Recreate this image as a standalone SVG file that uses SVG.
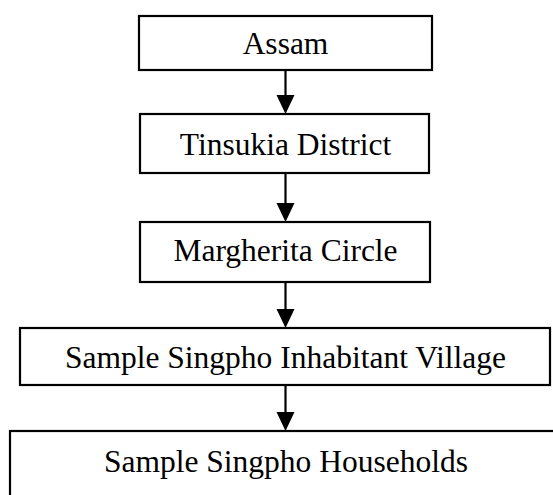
<svg xmlns="http://www.w3.org/2000/svg" width="553" height="495" viewBox="0 0 553 495">
<style>
.box{fill:#fff;stroke:#000;stroke-width:2.2}
.lbl{font-family:"Liberation Serif","Times New Roman",serif;font-size:31.5px;fill:#000;text-anchor:middle}
.edge{stroke:#000;stroke-width:2.2;fill:none}
.head{fill:#000}
</style>
<rect width="553" height="495" fill="#fff"/>
<g id="connectors">
<line class="edge" x1="285.5" y1="70" x2="285.5" y2="100"/>
<line class="edge" x1="285.5" y1="173" x2="285.5" y2="208"/>
<line class="edge" x1="285.5" y1="282" x2="285.5" y2="314"/>
<line class="edge" x1="285.5" y1="385" x2="285.5" y2="417"/>
<path class="head" d="M276.5,95 L294.5,95 L285.5,114 Z"/>
<path class="head" d="M276.5,203 L294.5,203 L285.5,222 Z"/>
<path class="head" d="M276.5,309 L294.5,309 L285.5,328 Z"/>
<path class="head" d="M276.5,412 L294.5,412 L285.5,431 Z"/>
</g>
<g id="assam">
<rect class="box" x="139" y="16" width="293" height="54"/>
<text class="lbl" x="285.5" y="54">Assam</text>
</g>
<g id="tinsukia">
<rect class="box" x="140" y="114" width="289" height="59"/>
<text class="lbl" x="285.5" y="155">Tinsukia District</text>
</g>
<g id="margherita">
<rect class="box" x="140" y="222" width="290" height="60"/>
<text class="lbl" x="285.5" y="261">Margherita Circle</text>
</g>
<g id="village">
<rect class="box" x="20" y="328" width="530" height="57"/>
<text class="lbl" x="285.5" y="368">Sample Singpho Inhabitant Village</text>
</g>
<g id="households">
<rect class="box" x="10" y="431" width="560" height="80"/>
<text class="lbl" x="286" y="472">Sample Singpho Households</text>
</g>
</svg>
